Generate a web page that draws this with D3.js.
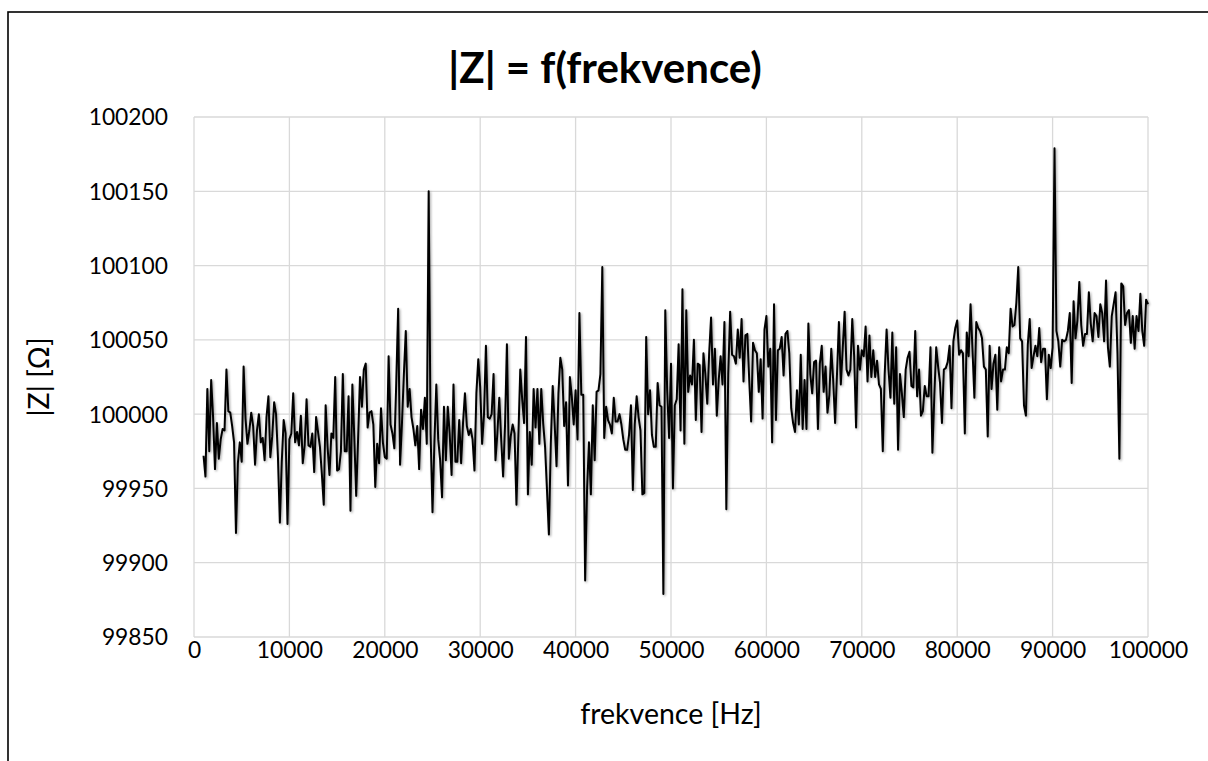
<!DOCTYPE html>
<html>
<head>
<meta charset="utf-8">
<script src="https://cdn.jsdelivr.net/npm/d3@7"></script>
<style>
  html, body { margin: 0; padding: 0; background: #fff; }
  svg { display: block; }
</style>
</head>
<body>
<svg id="chart" width="1208" height="761"></svg>
<script>
// ---- Data ----
const chartTitle = "|Z| = f(frekvence)";
const xAxisTitle = "frekvence [Hz]";
const yAxisTitle = "|Z| [\u03A9]";
const xTicks = [0, 10000, 20000, 30000, 40000, 50000, 60000, 70000, 80000, 90000, 100000];
const yTicks = [99850, 99900, 99950, 100000, 100050, 100100, 100150, 100200];
// measurement grid: 1000 Hz .. 100000 Hz in 200 Hz steps
const frequencies = d3.range(1000, 100001, 200);
// |Z| in ohms, one value per frequency
const impedance = [
99972,99958,100017,99975,100023,99998,99963,99994,99970,99983,
99990,99989,100030,100002,100001,99992,99981,99920,99967,99981,
99968,100032,99997,99980,99989,100001,99992,99966,99989,100000,
99981,99984,99969,99998,100012,99971,99985,100008,100000,99971,
99927,99968,99996,99987,99926,99983,99987,100014,99981,99988,
99979,99999,99967,99979,100010,99979,99978,99987,99961,99998,
99988,99978,99960,99939,100006,99978,99959,99987,99984,100025,
99962,99963,99975,100027,99975,99975,100012,99935,100020,99985,
99945,99983,100025,100005,100030,100034,99991,100001,100002,99993,
99951,99980,99967,100004,99981,99971,99970,100039,99993,99987,
99977,100021,100071,99966,99994,100027,100056,100005,100017,99998,
99990,99979,99992,99963,100003,99990,100011,99980,100150,99987,
99934,99981,100020,99983,99969,99944,100005,99969,100005,99987,
99959,100020,99968,99968,99996,99967,99994,100014,99992,99986,
99990,99983,99962,100014,100037,100018,99980,100000,100046,99998,
99997,100000,100027,99969,99987,100011,99983,99958,99992,100047,
99970,99985,99993,99987,99939,99985,100030,100010,99994,100052,
99946,99988,99966,100017,99991,100017,99980,100017,99994,99978,
99949,99919,99980,100019,99994,99965,100014,100038,100030,99992,
100008,99952,100025,100012,99993,100016,99983,100068,100013,100013,
99888,99949,99981,99946,100006,99969,100015,100016,100027,100099,
99984,100005,99996,99993,99987,100011,99995,99995,100000,99993,
99983,99976,99976,99986,100006,99949,99993,100012,99998,99989,
99946,99947,100052,100000,100016,99986,99978,99978,100021,100006,
100005,99879,100070,100016,99984,100034,99950,100006,100010,100047,
99989,100084,99980,100070,100015,100026,100020,100050,99996,100034,
100033,99988,100041,100027,100007,100041,100065,100020,100044,99999,
100023,100039,100020,100062,99936,100027,100069,100040,100039,100034,
100057,100038,100064,100022,100053,100054,100023,99995,100048,100043,
100041,100015,100037,99997,100057,100066,100032,100044,99981,100074,
99996,100043,100044,100052,100026,100054,100056,100041,100004,99994,
99988,100016,99993,100040,99990,100023,99990,100061,100027,100014,
100035,100036,99990,100034,100046,100015,100032,100001,100013,100044,
100023,99994,100027,100062,100020,100044,100069,100030,100026,100030,
100064,100039,99991,100046,100030,100043,100039,100059,100022,100053,
100025,100043,100025,100036,100020,100017,99975,100027,100057,100030,
100011,100055,100007,100045,99976,100027,100014,99998,100030,100038,
100042,100019,100018,100056,100012,100030,99999,100002,100019,100012,
100012,100045,99974,100012,100045,100032,100021,99994,100030,100031,
100035,100046,100004,100049,100058,100063,100040,100043,100041,99987,
100055,100039,100074,100044,100011,100062,100058,100056,100051,100032,
100030,99985,100046,100017,100034,100040,100003,100045,100022,100030,
100030,100045,100041,100071,100059,100060,100075,100099,100051,100049,
100006,99999,100047,100064,100031,100039,100046,100039,100058,100035,
100044,100044,100010,100040,100031,100045,100179,100056,100049,100032,
100050,100049,100050,100056,100068,100021,100076,100051,100063,100089,
100060,100046,100054,100054,100082,100061,100049,100068,100066,100052,
100074,100068,100049,100090,100045,100032,100066,100074,100082,100041,
99970,100088,100086,100060,100068,100070,100048,100066,100044,100066,
100056,100081,100056,100046,100077,100074
];

// ---- Drawing ----
const W = 1208, H = 761;
const svg = d3.select("#chart");
const fontFamily = "Lato, 'Open Sans', 'DejaVu Sans', sans-serif";

svg.append("rect").attr("x", 0).attr("y", 0).attr("width", W).attr("height", H).attr("fill", "#fff");

const defs = svg.append("defs");
const f = defs.append("filter").attr("id", "shadow")
  .attr("x", "-5%").attr("y", "-5%").attr("width", "110%").attr("height", "110%");
f.append("feDropShadow").attr("dx", 1.2).attr("dy", 1.2).attr("stdDeviation", 1.3)
  .attr("flood-color", "#000").attr("flood-opacity", 0.35);

// outer chart border (extends past right/bottom edge like the reference)
svg.append("rect")
  .attr("x", 8).attr("y", 12).attr("width", W + 10).attr("height", H + 10)
  .attr("fill", "none").attr("stroke", "#000").attr("stroke-width", 1.6);

const x = d3.scaleLinear().domain([0, 100000]).range([194, 1148]);
const y = d3.scaleLinear().domain([99850, 100200]).range([637, 117]);

const grid = svg.append("g").attr("stroke", "#d9d9d9").attr("stroke-width", 1.3);
grid.selectAll("line.h").data(yTicks).join("line")
  .attr("x1", x(0)).attr("x2", x(100000))
  .attr("y1", d => y(d)).attr("y2", d => y(d));
grid.selectAll("line.v").data(xTicks).join("line")
  .attr("y1", y(99850)).attr("y2", y(100200))
  .attr("x1", d => x(d)).attr("x2", d => x(d));

// axes (labels only; Excel-style: no tick marks, no domain line)
const yAxis = d3.axisLeft(y).tickValues(yTicks).tickSize(0).tickPadding(0).tickFormat(d3.format("d"));
const gy = svg.append("g").attr("transform", "translate(168,0)").call(yAxis);
gy.select(".domain").remove();
gy.selectAll("text").attr("font-family", fontFamily).attr("font-size", 22.8).attr("fill", "#000").attr("dy", "0.35em");

const xAxis = d3.axisBottom(x).tickValues(xTicks).tickSize(0).tickPadding(0).tickFormat(d3.format("d"));
const gx = svg.append("g").attr("transform", "translate(0,650)").call(xAxis);
gx.select(".domain").remove();
gx.selectAll("text").attr("font-family", fontFamily).attr("font-size", 22.8).attr("fill", "#000").attr("dy", "0.35em");

// data line
const pts = frequencies.map((fq, i) => [fq, impedance[i]]);
const line = d3.line().x(d => x(d[0])).y(d => y(d[1]));
svg.append("path").datum(pts)
  .attr("d", line)
  .attr("fill", "none").attr("stroke", "#000").attr("stroke-width", 2)
  .attr("stroke-linejoin", "round")
  .attr("filter", "url(#shadow)");

// titles
svg.append("text").attr("x", 605).attr("y", 67).attr("text-anchor", "middle")
  .attr("dominant-baseline", "central")
  .attr("font-family", fontFamily).attr("font-weight", "bold").attr("font-size", 42)
  .attr("fill", "#000").text(chartTitle);

svg.append("text").attr("x", 671).attr("y", 713).attr("text-anchor", "middle")
  .attr("dominant-baseline", "central")
  .attr("font-family", fontFamily).attr("font-size", 28.5).attr("fill", "#000").text(xAxisTitle);

svg.append("text").attr("transform", "translate(38,377) rotate(-90)").attr("text-anchor", "middle")
  .attr("dominant-baseline", "central")
  .attr("font-family", fontFamily).attr("font-size", 28.5).attr("fill", "#000").text(yAxisTitle);
</script>
</body>
</html>
